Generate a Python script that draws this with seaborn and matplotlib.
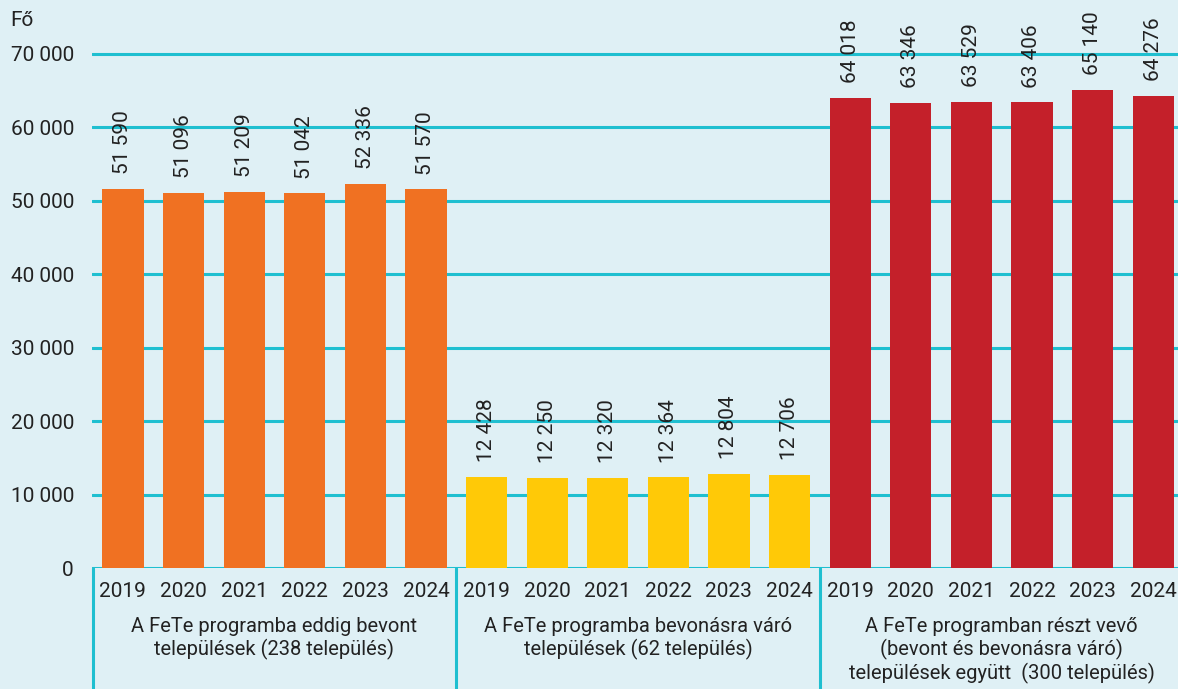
import pandas as pd
import matplotlib.pyplot as plt
import matplotlib.transforms as mtransforms
import seaborn as sns

years = ["2019", "2020", "2021", "2022", "2023", "2024"]
bevont = [51590, 51096, 51209, 51042, 52336, 51570]
varo = [12428, 12250, 12320, 12364, 12804, 12706]
egyutt = [64018, 63346, 63529, 63406, 65140, 64276]
group_labels = [
    "A FeTe programba eddig bevont\ntelepülések (238 település)",
    "A FeTe programba bevonásra váró\ntelepülések (62 település)",
    "A FeTe programban részt vevő\n(bevont és bevonásra váró)\ntelepülések együtt  (300 település)",
]
group_colors = ["#f07122", "#ffc907", "#c4202a"]
y_ticks = [0, 10000, 20000, 30000, 40000, 50000, 60000, 70000]

BG = "#dff0f5"
TEAL = "#1fbfd0"
TXT = "#222222"


def fmt(v):
    return f"{v:,}".replace(",", " ")


def run_chart():
    rows = []
    for g, vals in enumerate([bevont, varo, egyutt]):
        for i, v in enumerate(vals):
            rows.append({"pos": g * 6 + i, "year": years[i], "value": v, "group": str(g)})
    df = pd.DataFrame(rows)

    sns.set_theme(style="white")
    plt.rcParams["font.family"] = ["Roboto", "DejaVu Sans"]

    fig = plt.figure(figsize=(11.78, 6.89), dpi=100)
    fig.patch.set_facecolor(BG)
    ax_h = (568 - 39.3) / 689
    ax = fig.add_axes([92 / 1178, (689 - 568) / 689, (1178 - 92) / 1178, ax_h])
    ax.set_facecolor(BG)

    sns.barplot(data=df, x="pos", y="value", hue="group", native_scale=True,
                dodge=False, width=0.68, palette=group_colors, legend=False,
                saturation=1, linewidth=0, ax=ax, zorder=3)

    ax.set_xlim(-0.51, 17.41)
    ax.set_ylim(0, 72000)
    for t in y_ticks:
        ax.axhline(t, color=TEAL, lw=2.2, zorder=1)
    ax.set_yticks(y_ticks)
    ax.set_yticklabels([fmt(t) for t in y_ticks], fontsize=15, color=TXT)
    ax.tick_params(axis="y", length=0, pad=13)
    ax.set_xticks(df["pos"])
    ax.set_xticklabels(df["year"], fontsize=15, color=TXT)
    ax.tick_params(axis="x", length=0, pad=10)
    ax.set_xlabel("")
    ax.set_ylabel("")
    for s in ax.spines.values():
        s.set_visible(False)

    # rotated value labels above each bar
    for _, r in df.iterrows():
        ax.text(r["pos"], r["value"] + 2000, fmt(r["value"]), rotation=90,
                ha="center", va="bottom", fontsize=15, color=TXT, zorder=4)

    # group separators and group captions under the years
    trans = mtransforms.blended_transform_factory(ax.transData, ax.transAxes)
    for x in [-0.49, 5.5, 11.5]:
        ax.plot([x, x], [0, -0.3], transform=trans, color=TEAL, lw=2.2, clip_on=False)
    px = 568 - 39.3
    for g, lab in enumerate(group_labels):
        for k, line in enumerate(lab.split("\n")):
            y = -(58 + 23.5 * k) / px
            ax.text(g * 6 + 2.5, y, line, transform=trans, ha="center", va="center",
                    fontsize=14.5, color=TXT)

    fig.text(10 / 1178, 1 - 20 / 689, "Fő", fontsize=15, color=TXT, va="center")

    fig.savefig("out.png", dpi=100, facecolor=BG)
    plt.close(fig)


if __name__ == "__main__":
    run_chart()
